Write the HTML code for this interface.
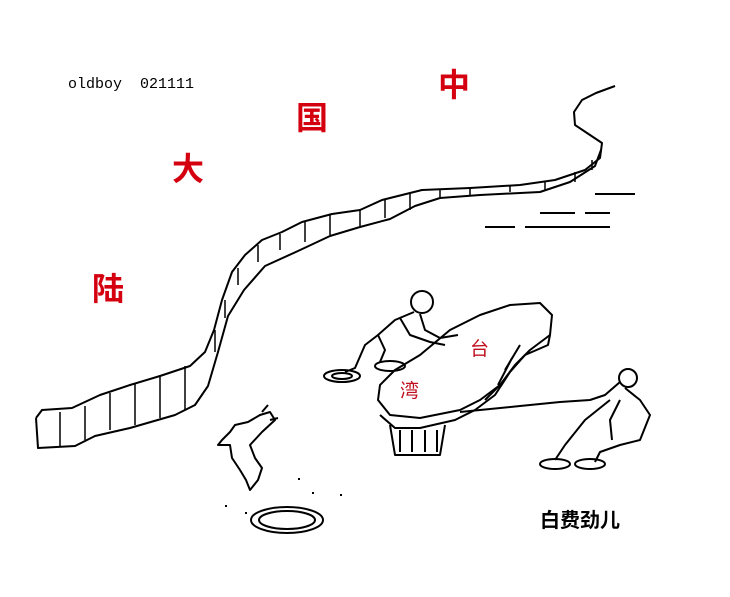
<!DOCTYPE html>
<html><head><meta charset="utf-8"><style>
html,body{margin:0;padding:0;background:#fff;}
svg{display:block}
.c{font-family:"Liberation Sans","Noto Sans CJK SC",sans-serif;}
</style></head><body>
<svg width="730" height="597" viewBox="0 0 730 597" xmlns="http://www.w3.org/2000/svg">
<rect width="730" height="597" fill="#fff"/>
<text x="68" y="88" font-family="Liberation Mono, monospace" font-size="15" fill="#000" xml:space="preserve" style="white-space:pre">oldboy  021111</text>
<g class="c" fill="#d40010" font-size="32" font-weight="bold">
<text x="438" y="96">中</text>
<text x="296" y="129">国</text>
<text x="172" y="180">大</text>
<text x="92" y="300">陆</text>
</g>
<g class="c" fill="#c01020" font-size="19">
<text x="470" y="355">台</text>
<text x="400" y="397">湾</text>
</g>
<text class="c" x="540" y="527" font-size="20" font-weight="bold" fill="#000">白费劲儿</text>
<g fill="none" stroke="#000" stroke-width="2" stroke-linejoin="round">
<path d="M36,418 L42,410 L72,408 L100,395 L130,385 L160,376 L190,366 L205,352 L214,330 L222,300 L232,272 L245,255 L262,240 L282,232 L302,222 L332,214 L360,210 L382,200 L402,195 L422,190 L470,188 L520,185 L555,180 L585,170 L600,158 L602,143 L590,135 L575,125 L574,112 L582,100 L596,93 L615,86"/>
<path d="M36,418 L38,448 L75,446 L95,436 L130,428 L175,415 L195,405 L208,386 L218,352 L228,316 L244,290 L265,266 L298,251 L330,236 L360,227 L390,219 L415,206 L440,198 L480,195 L540,192 L570,182 L595,166 L601,150"/>
<g stroke-width="1.5">
<path d="M60,412V446M85,406V440M110,393V430M135,384V425M160,375V418M185,366V410M215,330V352M225,300V318M238,268V285M258,245V262M280,234V250M305,222V242M330,215V235M360,210V226M385,200V218M410,194V210M440,190V198M470,188V195M510,186V192M545,182V190M575,172V182M592,160V170"/>
</g>
<path d="M595,194H635M540,213H575M585,213H610M485,227H515M525,227H610"/>
<path d="M378,400 L380,385 L395,370 L420,355 L450,330 L480,315 L510,305 L540,303 L552,315 L550,335 L530,350 L515,365 L500,385 L480,400 L460,410 L420,418 L390,415 Z"/>
<path d="M550,335 L548,345 L525,355 L510,372 L495,395 L475,410 L455,420 L420,428 L395,428 L380,415"/>
<path d="M390,425 L395,455 L440,455 L445,425"/>
<path d="M400,430V452M412,430V452M425,430V452M437,430V452"/>
<path d="M520,345L505,370M512,358L498,385M500,385L485,400"/>
<circle cx="422" cy="302" r="11"/>
<path d="M414,312 L395,320 L378,335 L365,345 L355,368 L345,372"/>
<path d="M420,314 L425,330 L440,338 L458,335"/>
<path d="M400,318 L410,335 L430,342 L445,345"/>
<path d="M378,335 L385,350 L380,362"/>
<ellipse cx="342" cy="376" rx="18" ry="6"/>
<ellipse cx="342" cy="376" rx="10" ry="3"/>
<ellipse cx="390" cy="366" rx="15" ry="5"/>
<circle cx="628" cy="378" r="9"/>
<path d="M620,382 L605,395 L590,400 L560,402 L540,404 L520,406 L460,412"/>
<path d="M625,388 L640,400 L650,415 L640,440 L620,445 L600,452 L595,462"/>
<path d="M610,400 L585,420 L565,445 L555,460"/>
<path d="M620,400 L610,420 L612,440"/>
<ellipse cx="555" cy="464" rx="15" ry="5"/>
<ellipse cx="590" cy="464" rx="15" ry="5"/>
<path d="M230,432 L222,440 L218,445 L230,445 L232,458 L240,470 L246,480 L250,490 L258,480 L262,468 L255,458 L250,445 L262,432 L275,420 L270,412 L260,415 L248,422 L235,425 Z"/>
<path d="M262,412 L268,405 M270,420 L278,418"/>
<ellipse cx="287" cy="520" rx="36" ry="13"/>
<ellipse cx="287" cy="520" rx="28" ry="9"/>
</g>
<g fill="#000">
<rect x="298" y="478" width="2" height="2"/><rect x="312" y="492" width="2" height="2"/><rect x="340" y="494" width="2" height="2"/><rect x="245" y="512" width="2" height="2"/><rect x="225" y="505" width="2" height="2"/>
</g>
</svg>
</body></html>
